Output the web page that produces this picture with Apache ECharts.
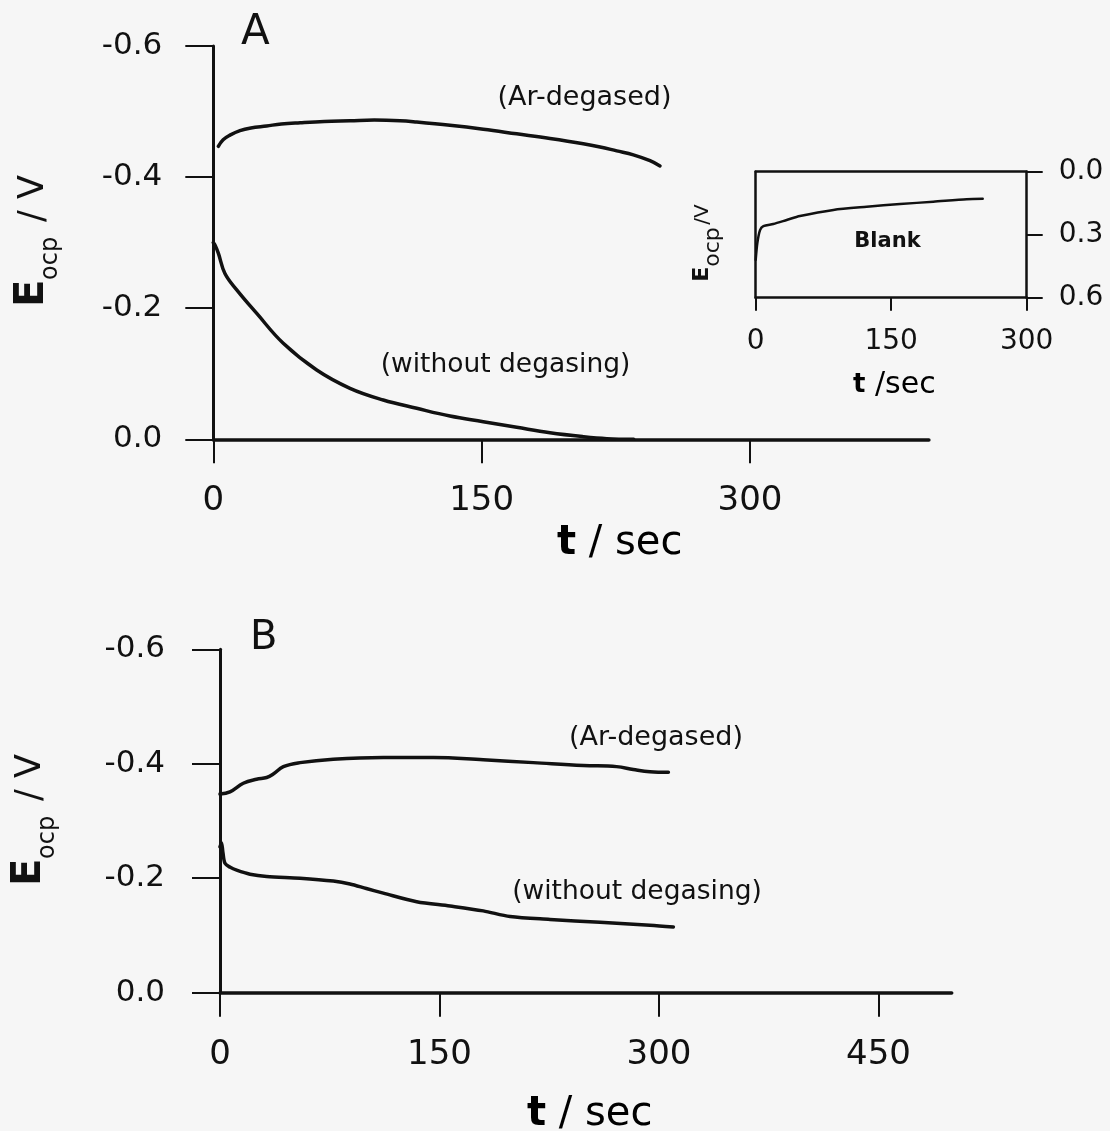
<!DOCTYPE html>
<html>
<head>
<meta charset="utf-8">
<script src="https://cdn.jsdelivr.net/npm/echarts@6/dist/echarts.min.js"></script>
<style>
  html, body { margin: 0; padding: 0; background: #f6f6f6; }
  #chart { width: 1110px; height: 1131px; }
</style>
</head>
<body>
<div id="chart"></div>
<script>
// ---- Panel A: open-circuit potential vs time (t in s, E in V) ----
const tA_ar  = [2.8, 5.5, 9.3, 14.9, 21, 29.8, 38, 48.5, 62, 76.4, 90, 104.4, 113.7, 132.3, 150.9, 169.6, 188.2, 206.8, 216.2, 225.5, 234.8, 244.1, 249.7];
const eA_ar  = [-0.447, -0.457, -0.464, -0.471, -0.475, -0.478, -0.481, -0.483, -0.485, -0.486, -0.487, -0.486, -0.484, -0.479, -0.473, -0.466, -0.459, -0.451, -0.446, -0.440, -0.434, -0.425, -0.417];
const tA_air = [0, 1, 2.8, 6.5, 13.1, 24.3, 39.1, 57.8, 76.4, 95, 113.7, 132.3, 150.9, 169.6, 188.2, 206.8, 220, 235];
const eA_air = [-0.300, -0.296, -0.284, -0.253, -0.228, -0.192, -0.1465, -0.1057, -0.0778, -0.060, -0.0473, -0.0355, -0.0269, -0.0183, -0.010, -0.004, -0.001, 0];

// ---- Panel B ----
const tB_ar  = [0, 6.8, 15.9, 25, 31.9, 36.4, 43.3, 54.7, 77.4, 111.6, 145.8, 179.9, 214.1, 248.3, 271, 282.4, 293.8, 306.4];
const eB_ar  = [-0.347, -0.351, -0.366, -0.373, -0.376, -0.382, -0.395, -0.402, -0.408, -0.411, -0.411, -0.407, -0.402, -0.397, -0.395, -0.390, -0.386, -0.385];
const tB_air = [0, 1, 2, 3.4, 7, 11.4, 20.5, 31.9, 54.7, 77.4, 88.8, 100, 111.6, 134.4, 157.2, 179.9, 198.2, 225.5, 259.7, 293.8, 309.8];
const eB_air = [-0.255, -0.262, -0.245, -0.226, -0.219, -0.214, -0.207, -0.203, -0.200, -0.195, -0.190, -0.182, -0.174, -0.159, -0.1515, -0.143, -0.133, -0.128, -0.123, -0.118, -0.115];

// ---- Inset: blank electrode ----
const tBlank = [0, 1.8, 4.8, 8.5, 19.5, 34.3, 49, 86, 122.9, 159.8, 196.6, 233.6, 251.3];
const eBlank = [0.42, 0.34, 0.278, 0.259, 0.249, 0.230, 0.211, 0.182, 0.167, 0.154, 0.143, 0.131, 0.129];

// ---- tick values ----
const ticksA_x = [0, 150, 300];
const ticksB_x = [0, 150, 300, 450];
const ticksInset_x = [0, 150, 300];

const INK = '#111';
const FONT = 'DejaVu Sans';

const zip = (xs, ys) => xs.map((x, i) => [x, ys[i]]);
const fmt1 = v => Number(v).toFixed(1);

function curve(xi, yi, t, e, width, smooth) {
  return {
    type: 'line', xAxisIndex: xi, yAxisIndex: yi,
    data: zip(t, e), showSymbol: false, symbol: 'none',
    smooth: smooth,
    lineStyle: { color: INK, width: width, cap: 'round', join: 'round' }, z: 3
  };
}

function xAxisMain(grid, max, ticks, lineW) {
  return {
    gridIndex: grid, type: 'value', min: 0, max: max,
    axisLine: { onZero: false, lineStyle: { color: INK, width: lineW } },
    axisTick: { customValues: ticks, inside: false, length: 24, lineStyle: { color: INK, width: 2 } },
    axisLabel: { customValues: ticks, fontSize: 34, fontFamily: FONT, color: INK, margin: 45 },
    splitLine: { show: false }
  };
}
function yAxisMain(grid, margin) {
  return {
    gridIndex: grid, type: 'value', min: -0.6, max: 0, interval: 0.2, inverse: true,
    axisLine: { show: true, onZero: false, lineStyle: { color: INK, width: 3 } },
    axisTick: { show: true, inside: false, length: 28, lineStyle: { color: INK, width: 2 } },
    axisLabel: { fontSize: 31, fontFamily: FONT, color: INK, margin: margin, formatter: fmt1 },
    splitLine: { show: false }
  };
}

// rotated "E_ocp / V" axis title, anchored at the baseline of "E"
function yTitle(x, y, sE, sSub, sV, subX, subDrop, vX, vText) {
  const mid = fs => -0.346 * fs;
  const st = (text, fs, weight) => ({ text: text, fontSize: fs, fontWeight: weight || 'normal', fontFamily: FONT, fill: INK,
    align: 'left', verticalAlign: 'middle', textAlign: 'left', textVerticalAlign: 'middle' });
  return {
    type: 'group', x: x, y: y, rotation: Math.PI / 2,
    children: [
      { type: 'text', x: 0, y: mid(sE), style: st('E', sE, 'bold') },
      { type: 'text', x: subX, y: subDrop + mid(sSub), style: st('ocp', sSub) },
      { type: 'text', x: vX, y: mid(sV), style: st(vText, sV) }
    ]
  };
}

function label(text, x, y, size, weight, align) {
  return {
    type: 'text', x: x, y: y,
    style: { text: text, fontSize: size, fontWeight: weight || 'normal', fontFamily: FONT, fill: INK,
             align: align || 'center', verticalAlign: 'middle', textAlign: align || 'center', textVerticalAlign: 'middle' }
  };
}

// "t / sec" with bold t, baseline at y
function tTitle(x, y, sT, sS, rest) {
  return {
    type: 'text', x: x, y: y - 0.346 * sS,
    style: {
      text: '{t|t}{s|' + rest + '}',
      align: 'left', verticalAlign: 'middle', textAlign: 'left', textVerticalAlign: 'middle',
      rich: {
        t: { fontSize: sT, fontWeight: 'bold', fontFamily: FONT, color: INK },
        s: { fontSize: sS, fontFamily: FONT, color: INK }
      }
    }
  };
}

const chart = echarts.init(document.getElementById('chart'), null, { renderer: 'canvas' });
chart.setOption({
  backgroundColor: '#f6f6f6',
  animation: false,
  grid: [
    { left: 213.3, top: 46, width: 715.6, height: 393.3, outerBoundsMode: 'none' },
    { left: 220, top: 649.3, width: 731.7, height: 343.4, outerBoundsMode: 'none' },
    { left: 755.7, top: 171.7, width: 271, height: 126, outerBoundsMode: 'none' }
  ],
  xAxis: [
    xAxisMain(0, 400, ticksA_x, 3.5),
    xAxisMain(1, 500, ticksB_x, 3.5),
    {
      gridIndex: 2, type: 'value', min: 0, max: 300, position: 'bottom',
      axisLine: { onZero: false, lineStyle: { color: INK, width: 2.5 } },
      axisTick: { customValues: ticksInset_x, inside: false, length: 13, lineStyle: { color: INK, width: 2 } },
      axisLabel: { customValues: ticksInset_x, fontSize: 28, fontFamily: FONT, color: INK, margin: 30 },
      splitLine: { show: false }
    },
    {
      gridIndex: 2, type: 'value', min: 0, max: 300, position: 'top',
      axisLine: { onZero: false, lineStyle: { color: INK, width: 2.5 } },
      axisTick: { show: false }, axisLabel: { show: false }, splitLine: { show: false }
    }
  ],
  yAxis: [
    yAxisMain(0, 51),
    yAxisMain(1, 55),
    {
      gridIndex: 2, type: 'value', min: 0, max: 0.6, interval: 0.3, inverse: true, position: 'right',
      axisLine: { show: true, onZero: false, lineStyle: { color: INK, width: 2.5 } },
      axisTick: { show: true, inside: false, length: 16, lineStyle: { color: INK, width: 2 } },
      axisLabel: { fontSize: 28, fontFamily: FONT, color: INK, margin: 32, formatter: fmt1 },
      splitLine: { show: false }
    },
    {
      gridIndex: 2, type: 'value', min: 0, max: 0.6, inverse: true, position: 'left',
      axisLine: { show: true, onZero: false, lineStyle: { color: INK, width: 2.5 } },
      axisTick: { show: false }, axisLabel: { show: false }, splitLine: { show: false }
    }
  ],
  series: [
    curve(0, 0, tA_ar, eA_ar, 3.5, 0.4),
    curve(0, 0, tA_air, eA_air, 3.5, 0.4),
    curve(1, 1, tB_ar, eB_ar, 3.5, 0.4),
    curve(1, 1, tB_air, eB_air, 3.5, 0.3),
    curve(2, 2, tBlank, eBlank, 2.5, 0.25)
  ],
  graphic: [
    label('A', 241, 48 - 0.346 * 42, 42, 'normal', 'left'),
    label('B', 250, 652 - 0.346 * 40, 40, 'normal', 'left'),
    label('(Ar-degased)', 584.5, 98, 27),
    label('(without degasing)', 505.5, 365.5, 26.5),
    label('(Ar-degased)', 656, 738, 27),
    label('(without degasing)', 637, 892.5, 26.5),
    label('Blank', 887.5, 242, 21, 'bold'),
    yTitle(46, 307, 40, 24, 35, 27, 13, 85, '/ V'),
    yTitle(43, 886, 40, 24, 35, 27, 13, 85, '/ V'),
    yTitle(710, 281.7, 22, 22, 20, 15, 11, 57, '/V'),
    tTitle(557, 557, 40, 40, ' / sec'),
    tTitle(527, 1128, 40, 40, ' / sec'),
    tTitle(853, 396, 26, 30, ' /sec')
  ]
});
</script>
</body>
</html>
